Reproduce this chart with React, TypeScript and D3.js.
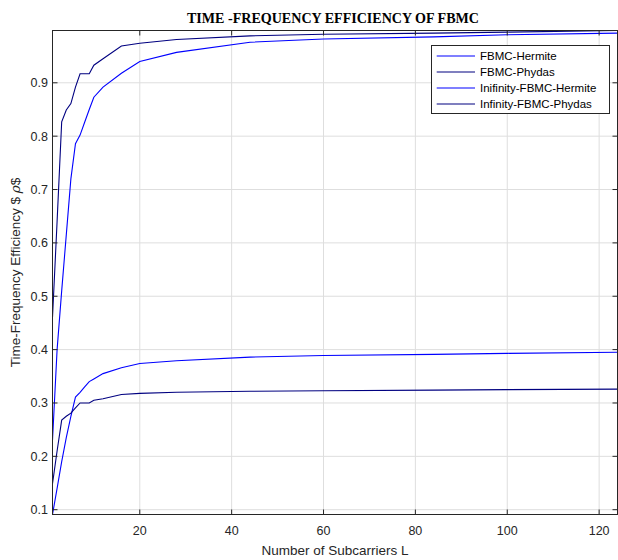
import React from "react";
import * as d3 from "d3";

const L = [1, 2, 3, 4, 5, 6, 7, 8, 9, 10, 12, 16, 20, 28, 44, 60, 84, 100, 124];
const fbmcHermite = [0.091, 0.14, 0.19, 0.235, 0.275, 0.311, 0.32, 0.33, 0.34, 0.345, 0.355, 0.366, 0.374, 0.379, 0.386, 0.389, 0.391, 0.393, 0.395];
const fbmcPhydas = [0.149, 0.21, 0.268, 0.275, 0.281, 0.291, 0.3, 0.3, 0.3, 0.305, 0.308, 0.316, 0.318, 0.32, 0.322, 0.323, 0.324, 0.325, 0.326];
const infHermite = [0.23, 0.4, 0.51, 0.615, 0.72, 0.786, 0.802, 0.826, 0.85, 0.873, 0.892, 0.918, 0.94, 0.957, 0.976, 0.982, 0.986, 0.99, 0.993];
const infPhydas = [0.46, 0.64, 0.827, 0.849, 0.861, 0.892, 0.917, 0.917, 0.917, 0.933, 0.945, 0.969, 0.974, 0.981, 0.988, 0.991, 0.993, 0.995, 0.998];

const xTicks = [20, 40, 60, 80, 100, 120];
const yTicks = [0.1, 0.2, 0.3, 0.4, 0.5, 0.6, 0.7, 0.8, 0.9];

const seriesNames = ["FBMC-Hermite", "FBMC-Phydas", "Inifinity-FBMC-Hermite", "Infinity-FBMC-Phydas"];
const seriesData = [fbmcHermite, fbmcPhydas, infHermite, infPhydas];
const seriesColors = ["#0000ff", "#000080", "#0000ff", "#000080"];

const W = 618, H = 560;
const left = 52.5, right = 617.5, top = 30.5, bottom = 514.5;
const font = "'Liberation Sans', Arial, Helvetica, sans-serif";
const axisColor = "#262626";

export default function App() {
  const x = d3.scaleLinear().domain([1, 124]).range([left, right]);
  const y = d3.scaleLinear().domain([0.091, 0.998]).range([bottom, top]);
  const line = d3
    .line<number>()
    .x((_, i) => x(L[i]))
    .y((d) => y(d));

  const legX = 431.5, legY = 45.5, legW = 178, legH = 68;
  return (
    <svg width={W} height={H} style={{ position: "absolute", left: 0, top: 0, background: "#fff" }}>
      <rect x={0} y={0} width={W} height={H} fill="#fff" />
      {xTicks.map((t) => (
        <line key={"gx" + t} x1={x(t)} x2={x(t)} y1={top} y2={bottom} stroke="#dedede" strokeWidth={1} />
      ))}
      {yTicks.map((t) => (
        <line key={"gy" + t} x1={left} x2={right} y1={y(t)} y2={y(t)} stroke="#dedede" strokeWidth={1} />
      ))}
      {seriesData.map((s, i) => (
        <path key={"s" + i} d={line(s) || ""} fill="none" stroke={seriesColors[i]} strokeWidth={1.1} />
      ))}
      <rect x={left} y={top} width={right - left} height={bottom - top} fill="none" stroke={axisColor} strokeWidth={1} />
      {xTicks.map((t) => (
        <g key={"tx" + t}>
          <line x1={x(t)} x2={x(t)} y1={bottom} y2={bottom - 5} stroke={axisColor} />
          <line x1={x(t)} x2={x(t)} y1={top} y2={top + 5} stroke={axisColor} />
          <text x={x(t)} y={535} textAnchor="middle" fontFamily={font} fontSize={12.5} fill={axisColor}>
            {t}
          </text>
        </g>
      ))}
      {yTicks.map((t) => (
        <g key={"ty" + t}>
          <line x1={left} x2={left + 5} y1={y(t)} y2={y(t)} stroke={axisColor} />
          <line x1={right} x2={right - 5} y1={y(t)} y2={y(t)} stroke={axisColor} />
          <text x={48} y={y(t) + 4.5} textAnchor="end" fontFamily={font} fontSize={12.5} fill={axisColor}>
            {t.toFixed(1)}
          </text>
        </g>
      ))}
      <text x={(left + right) / 2} y={555} textAnchor="middle" fontFamily={font} fontSize={13.5} fill={axisColor}>
        Number of Subcarriers L
      </text>
      <text
        transform={`translate(20,${(top + bottom) / 2}) rotate(-90)`}
        textAnchor="middle"
        fontFamily={font}
        fontSize={13.5}
        fill={axisColor}
      >
        Time-Frequency Efficiency ${" "}
        <tspan fontStyle="italic" fontFamily="'DejaVu Serif', serif">ρ</tspan>$
      </text>
      <text
        x={333}
        y={22.5}
        textAnchor="middle"
        fontFamily="'Liberation Serif', 'Times New Roman', serif"
        fontWeight="bold"
        fontSize={14}
        textLength={292}
        lengthAdjust="spacingAndGlyphs"
        fill="#000"
      >
        TIME -FREQUENCY EFFICIENCY OF FBMC
      </text>
      <rect x={legX} y={legY} width={legW} height={legH} fill="#fff" stroke={axisColor} strokeWidth={1} />
      {seriesNames.map((n, i) => {
        const ly = 56 + i * 16;
        return (
          <g key={"l" + i}>
            <line x1={436.7} x2={475} y1={ly} y2={ly} stroke={seriesColors[i]} strokeWidth={1.1} />
            <text x={480} y={ly + 4} fontFamily={font} fontSize={11.5} fill="#000">
              {n}
            </text>
          </g>
        );
      })}
    </svg>
  );
}
